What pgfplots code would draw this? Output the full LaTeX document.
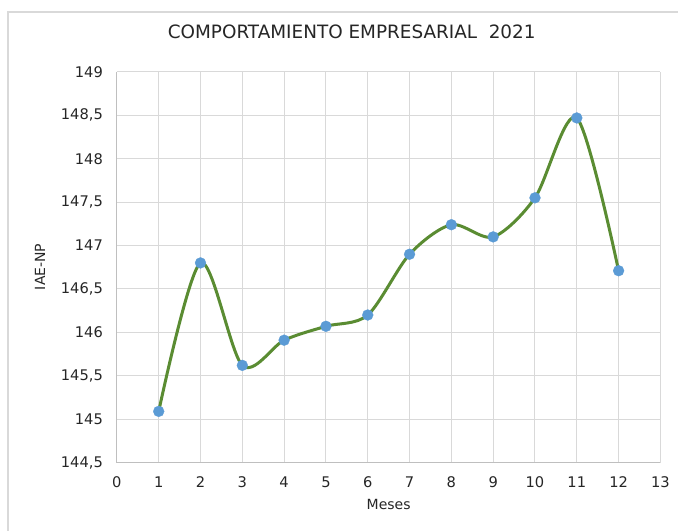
\documentclass[border=0pt]{standalone}
\usepackage{fontspec}
\setmainfont{DejaVu Sans}
\usepackage{pgfplots}
\pgfplotsset{compat=1.18}
\definecolor{linegreen}{HTML}{5A8C32}
\definecolor{markblue}{HTML}{5B9BD5}
\definecolor{gridgray}{HTML}{D9D9D9}
\definecolor{axisgray}{HTML}{BFBFBF}
\definecolor{txt}{HTML}{262626}
\begin{document}
\begin{tikzpicture}[x=1pt,y=1pt]
\fill[white] (0,0) rectangle (509.25,398.25);
\draw[draw=gridgray, line width=0.9pt] (6,0) -- (6,389.25) -- (509.25,389.25);
\begin{axis}[
  at={(87.75pt,51pt)}, anchor=south west,
  scale only axis, width=408pt, height=293.25pt,
  xmin=0, xmax=13, ymin=144.5, ymax=149,
  xtick={0,1,...,13}, ytick={144.5,145,145.5,146,146.5,147,147.5,148,148.5,149},
  grid=major, grid style={draw=gridgray, line width=0.75pt},
  axis lines=left, axis line style={draw=axisgray, line width=0.75pt, -},
  major tick length=0pt,
  /pgf/number format/.cd, use comma, 1000 sep={}, assume math mode=true,
  /pgfplots/.cd,
  tick label style={font=\fontsize{11}{13}\selectfont, text=txt},
  yticklabel style={xshift=-7pt},
  xticklabel style={yshift=-7pt},
  xlabel={Meses}, ylabel={IAE-NP},
  label style={font=\fontsize{10.5}{12}\selectfont, text=txt},
  xlabel style={at={(axis description cs:0.5,-0.107)}, anchor=center},
  ylabel style={at={(axis description cs:-0.1415,0.501)}, anchor=center, rotate=0},
  title={COMPORTAMIENTO EMPRESARIAL\ \ 2021},
  title style={at={(axis description cs:0.432,1.082)}, anchor=center, font=\fontsize{13.8}{16}\selectfont, text=txt},
  clip=false,
]
\addplot[color=linegreen, line width=2.25pt, smooth, tension=0.5, no markers]
  coordinates {
  (1,145.09) (2,146.80) (3,145.62) (4,145.91) (5,146.07) (6,146.20)
  (7,146.90) (8,147.24) (9,147.10) (10,147.55) (11,148.47) (12,146.71)
  };
\addplot[only marks, mark=*, mark size=4.1pt, color=markblue, line width=0.2pt]
  coordinates {
  (1,145.09) (2,146.80) (3,145.62) (4,145.91) (5,146.07) (6,146.20)
  (7,146.90) (8,147.24) (9,147.10) (10,147.55) (11,148.47) (12,146.71)
  };
\end{axis}
\end{tikzpicture}
\end{document}
